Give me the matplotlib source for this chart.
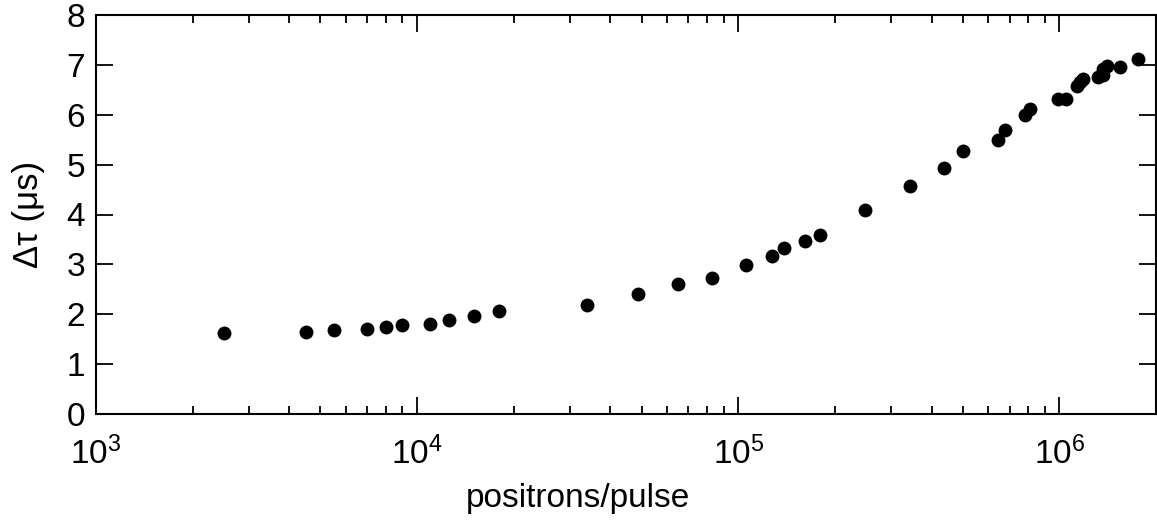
import matplotlib
matplotlib.use("Agg")
import matplotlib.pyplot as plt
from matplotlib.ticker import LogLocator, NullFormatter, MultipleLocator

plt.rcParams['font.family'] = ['Liberation Sans', 'DejaVu Sans']
plt.rcParams['mathtext.fontset'] = 'custom'
plt.rcParams['mathtext.rm'] = 'Liberation Sans'
plt.rcParams['mathtext.it'] = 'Liberation Sans:italic'
plt.rcParams['mathtext.bf'] = 'Liberation Sans:bold'

positrons = [2500, 4500, 5500, 7000, 8000, 9000, 11000, 12550, 15000, 18000,
             33900, 48900, 65000, 82900, 106000, 127000, 139000, 161000, 180000,
             248000, 343000, 436000, 502000, 645000, 675000, 780000, 812000,
             992000, 1048000, 1131000, 1159000, 1187000, 1318000, 1370000,
             1367000, 1410000, 1544000, 1753000]
delta_tau = [1.62, 1.65, 1.68, 1.70, 1.74, 1.78, 1.81, 1.88, 1.96, 2.07,
             2.18, 2.40, 2.60, 2.73, 2.98, 3.16, 3.33, 3.46, 3.59,
             4.09, 4.575, 4.94, 5.28, 5.50, 5.70, 6.00, 6.12,
             6.31, 6.32, 6.57, 6.65, 6.72, 6.75, 6.80,
             6.91, 6.97, 6.95, 7.11]

fig = plt.figure(figsize=(11.57, 5.2), dpi=100)
ax = fig.add_axes([96/1157, 1-414/520, 1060/1157, 399/520])

ax.plot(positrons, delta_tau, 'o', color='black', markersize=10, markeredgewidth=0)

ax.set_xscale('log')
ax.set_xlim(1e3, 2e6)
ax.set_ylim(0, 8)
ax.yaxis.set_major_locator(MultipleLocator(1))
ax.xaxis.set_minor_locator(LogLocator(base=10, subs=range(2, 10), numticks=20))
ax.xaxis.set_minor_formatter(NullFormatter())

for s in ax.spines.values():
    s.set_linewidth(1.5)
ax.tick_params(which='both', direction='in', top=True, right=True, width=1.3,
               labelsize=24)
ax.tick_params(which='major', length=12)
ax.tick_params(which='minor', length=6)
ax.tick_params(axis='x', which='major', pad=16)
ax.tick_params(axis='y', which='major', pad=8)

ax.set_xlabel('positrons/pulse', fontsize=24)
ax.xaxis.set_label_coords(0.455, -0.172)
ax.xaxis.label.set_verticalalignment('top')
ax.set_ylabel('Δτ (μs)', fontsize=25)
ax.yaxis.set_label_coords(-0.048, 0.5)

fig.savefig('out.png', dpi=100)
